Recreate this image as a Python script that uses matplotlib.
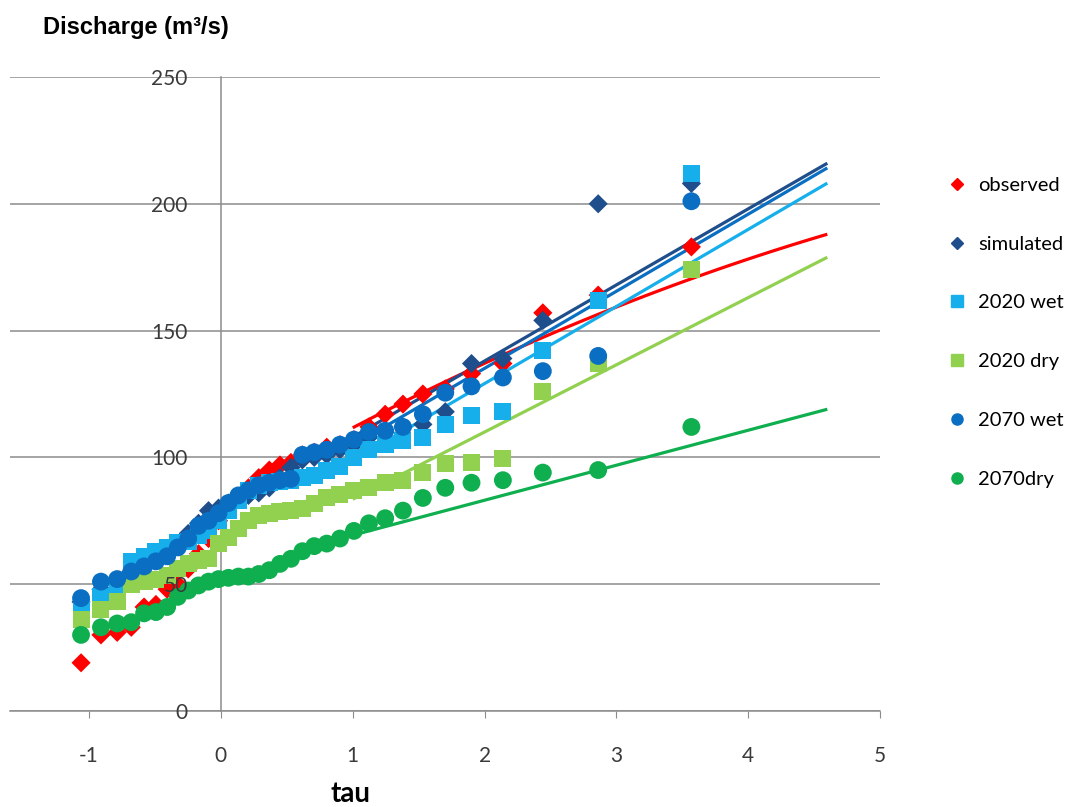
import numpy as np
import matplotlib.pyplot as plt
from matplotlib.lines import Line2D

plt.rcParams["axes.unicode_minus"] = False

# ---------- DATA ----------
# reduced variate (tau) of each ranked value
tau = [-1.061, -0.910, -0.787, -0.680, -0.583, -0.493, -0.408, -0.327, -0.248, -0.170,
       -0.094, -0.018, 0.057, 0.133, 0.209, 0.287, 0.367, 0.448, 0.531, 0.618,
       0.708, 0.803, 0.903, 1.009, 1.123, 1.246, 1.381, 1.532, 1.702, 1.901,
       2.139, 2.442, 2.862, 3.569]

observed = [19, 30, 31, 33, 41, 42, 48, 50, 56, 62,
            68, 75, 80, 84, 88, 92, 95, 97, 98, 101,
            102, 104, 105, 107, 112, 117, 121, 125, 127, 133,
            137, 157, 164, 183]

simulated = [43, 48, 51, 55, 58, 60, 62, 66, 70, 74,
             79, 80, 82, 84, 85, 86, 88, 92, 96, 99,
             100, 101, 103, 105, 108, 110, 112, 113, 118, 137,
             139, 154, 200, 208]

wet_2020 = [41, 45, 50, 59, 61, 63, 64.5, 66.5, 67, 69,
            71, 75, 79, 83, 87, 89, 90, 90.5, 91, 92,
            93, 95, 96.5, 100, 103, 105, 106.5, 108, 113, 116.5,
            118, 142, 162, 212]

dry_2020 = [36, 40, 43, 50, 51, 52, 53.5, 56, 58, 59.5,
            60, 66, 68.5, 72, 75, 77, 78, 78.5, 79, 80,
            82, 84, 85.5, 87, 88, 90, 91, 94, 97.5, 98,
            99.5, 126, 137, 174]

wet_2070 = [44.5, 51, 52, 55, 57, 59, 61, 64.5, 68, 73,
            75, 78, 82, 85, 87, 89, 90, 91, 91.5, 101,
            102, 103, 105, 107, 110, 110.5, 112, 117, 125.5, 128,
            131.5, 134, 140, 201]

dry_2070 = [30, 33, 34.5, 35, 38.5, 39, 41, 45, 47.5, 49.5,
            51, 52, 52.5, 53, 53, 54, 55.5, 58, 60, 63,
            65, 66, 68, 71, 74, 76, 79, 84, 88, 90,
            91, 94, 95, 112]

# fitted lines (polynomial coefficients, highest power first)
trend_observed = [-1.625, 30.3, 83.0]
trend_simulated = [30.0, 78.0]
trend_wet_2020 = [30.4, 68.3]
trend_dry_2020 = [26.5, 57.0]
trend_wet_2070 = [30.4, 74.3]
trend_dry_2070 = [13.8, 55.5]
trend_range = [1.0, 4.6]

labels = ["observed", "simulated", "2020 wet", "2020 dry", "2070 wet", "2070dry"]

# ---------- STYLE ----------
colors = ["#FF0000", "#1F4E8C", "#16AEEB", "#92D050", "#0A6FC2", "#0FAF4F"]
markers = ["D", "D", "s", "s", "o", "o"]
sizes = [95, 95, 150, 150, 165, 165]

values = [observed, simulated, wet_2020, dry_2020, wet_2070, dry_2070]
trends = [trend_observed, trend_simulated, trend_wet_2020, trend_dry_2020,
          trend_wet_2070, trend_dry_2070]

grid_col = "#8C8C8C"
lab_col = "#3A3A3A"
pos = [0.0092, 0.119, 0.8004, 0.7856]

# ---------- PLOT ----------
fig = plt.figure(figsize=(10.87, 8.07), dpi=100)
ax = fig.add_axes(pos)

t = np.linspace(trend_range[0], trend_range[1], 60)
for coef, col in zip(trends, colors):
    ax.plot(t, np.polyval(coef, t), color=col, lw=2.3, zorder=2,
            solid_capstyle="butt")

for vals, col, mk, sz in zip(values, colors, markers, sizes):
    ax.scatter(tau, vals, s=sz, marker=mk, color=col, edgecolors="none",
               zorder=3)

ax.set_xlim(-1.6, 5)
ax.set_ylim(0, 250)
ax.set_xticks(range(-1, 6))
ax.set_yticks(range(0, 251, 50))

ax.yaxis.grid(True, color=grid_col, lw=1.1)
ax.set_axisbelow(True)

for s in ["top", "right"]:
    ax.spines[s].set_visible(False)
ax.spines["left"].set_position(("data", 0))
ax.spines["left"].set_color(grid_col)
ax.spines["bottom"].set_color(grid_col)
ax.spines["left"].set_linewidth(1.1)
ax.spines["bottom"].set_linewidth(1.1)

ax.tick_params(axis="y", length=0, labelleft=False)
ax.tick_params(axis="x", length=5, color=grid_col, pad=20, labelcolor=lab_col)
for lab in ax.get_xticklabels():
    lab.set_fontfamily("Lato")
    lab.set_fontsize(15)

# y labels sit on top of the markers, like in the source chart
ax_lab = fig.add_axes(pos, sharex=ax, sharey=ax)
ax_lab.patch.set_visible(False)
for s in ax_lab.spines.values():
    s.set_visible(False)
ax_lab.spines["left"].set_position(("data", 0))
ax_lab.tick_params(axis="x", bottom=False, labelbottom=False)
ax_lab.tick_params(axis="y", length=0, pad=24, labelcolor=lab_col)
for lab in ax_lab.get_yticklabels():
    lab.set_fontfamily("Lato")
    lab.set_fontsize(15)

fig.text(0.040, 0.966, "Discharge (m³/s)", family="Liberation Sans",
         fontweight="bold", fontsize=17, va="center", ha="left")
fig.text(0.322, 0.0, "tau", family="Lato", fontweight="bold", fontsize=20,
         va="bottom", ha="center")

handles = [Line2D([], [], ls="none", marker=mk, color=col, markersize=ms)
           for col, mk, ms in zip(colors, markers, [6, 6, 8, 8, 8, 8])]
leg = fig.legend(handles, labels, loc="upper left",
                 bbox_to_anchor=(0.8575, 0.8035), frameon=False,
                 handlelength=0.7, handletextpad=0.7, labelspacing=2.07,
                 prop=dict(family="Lato", size=14.5))

fig.savefig("out.png", dpi=100)
